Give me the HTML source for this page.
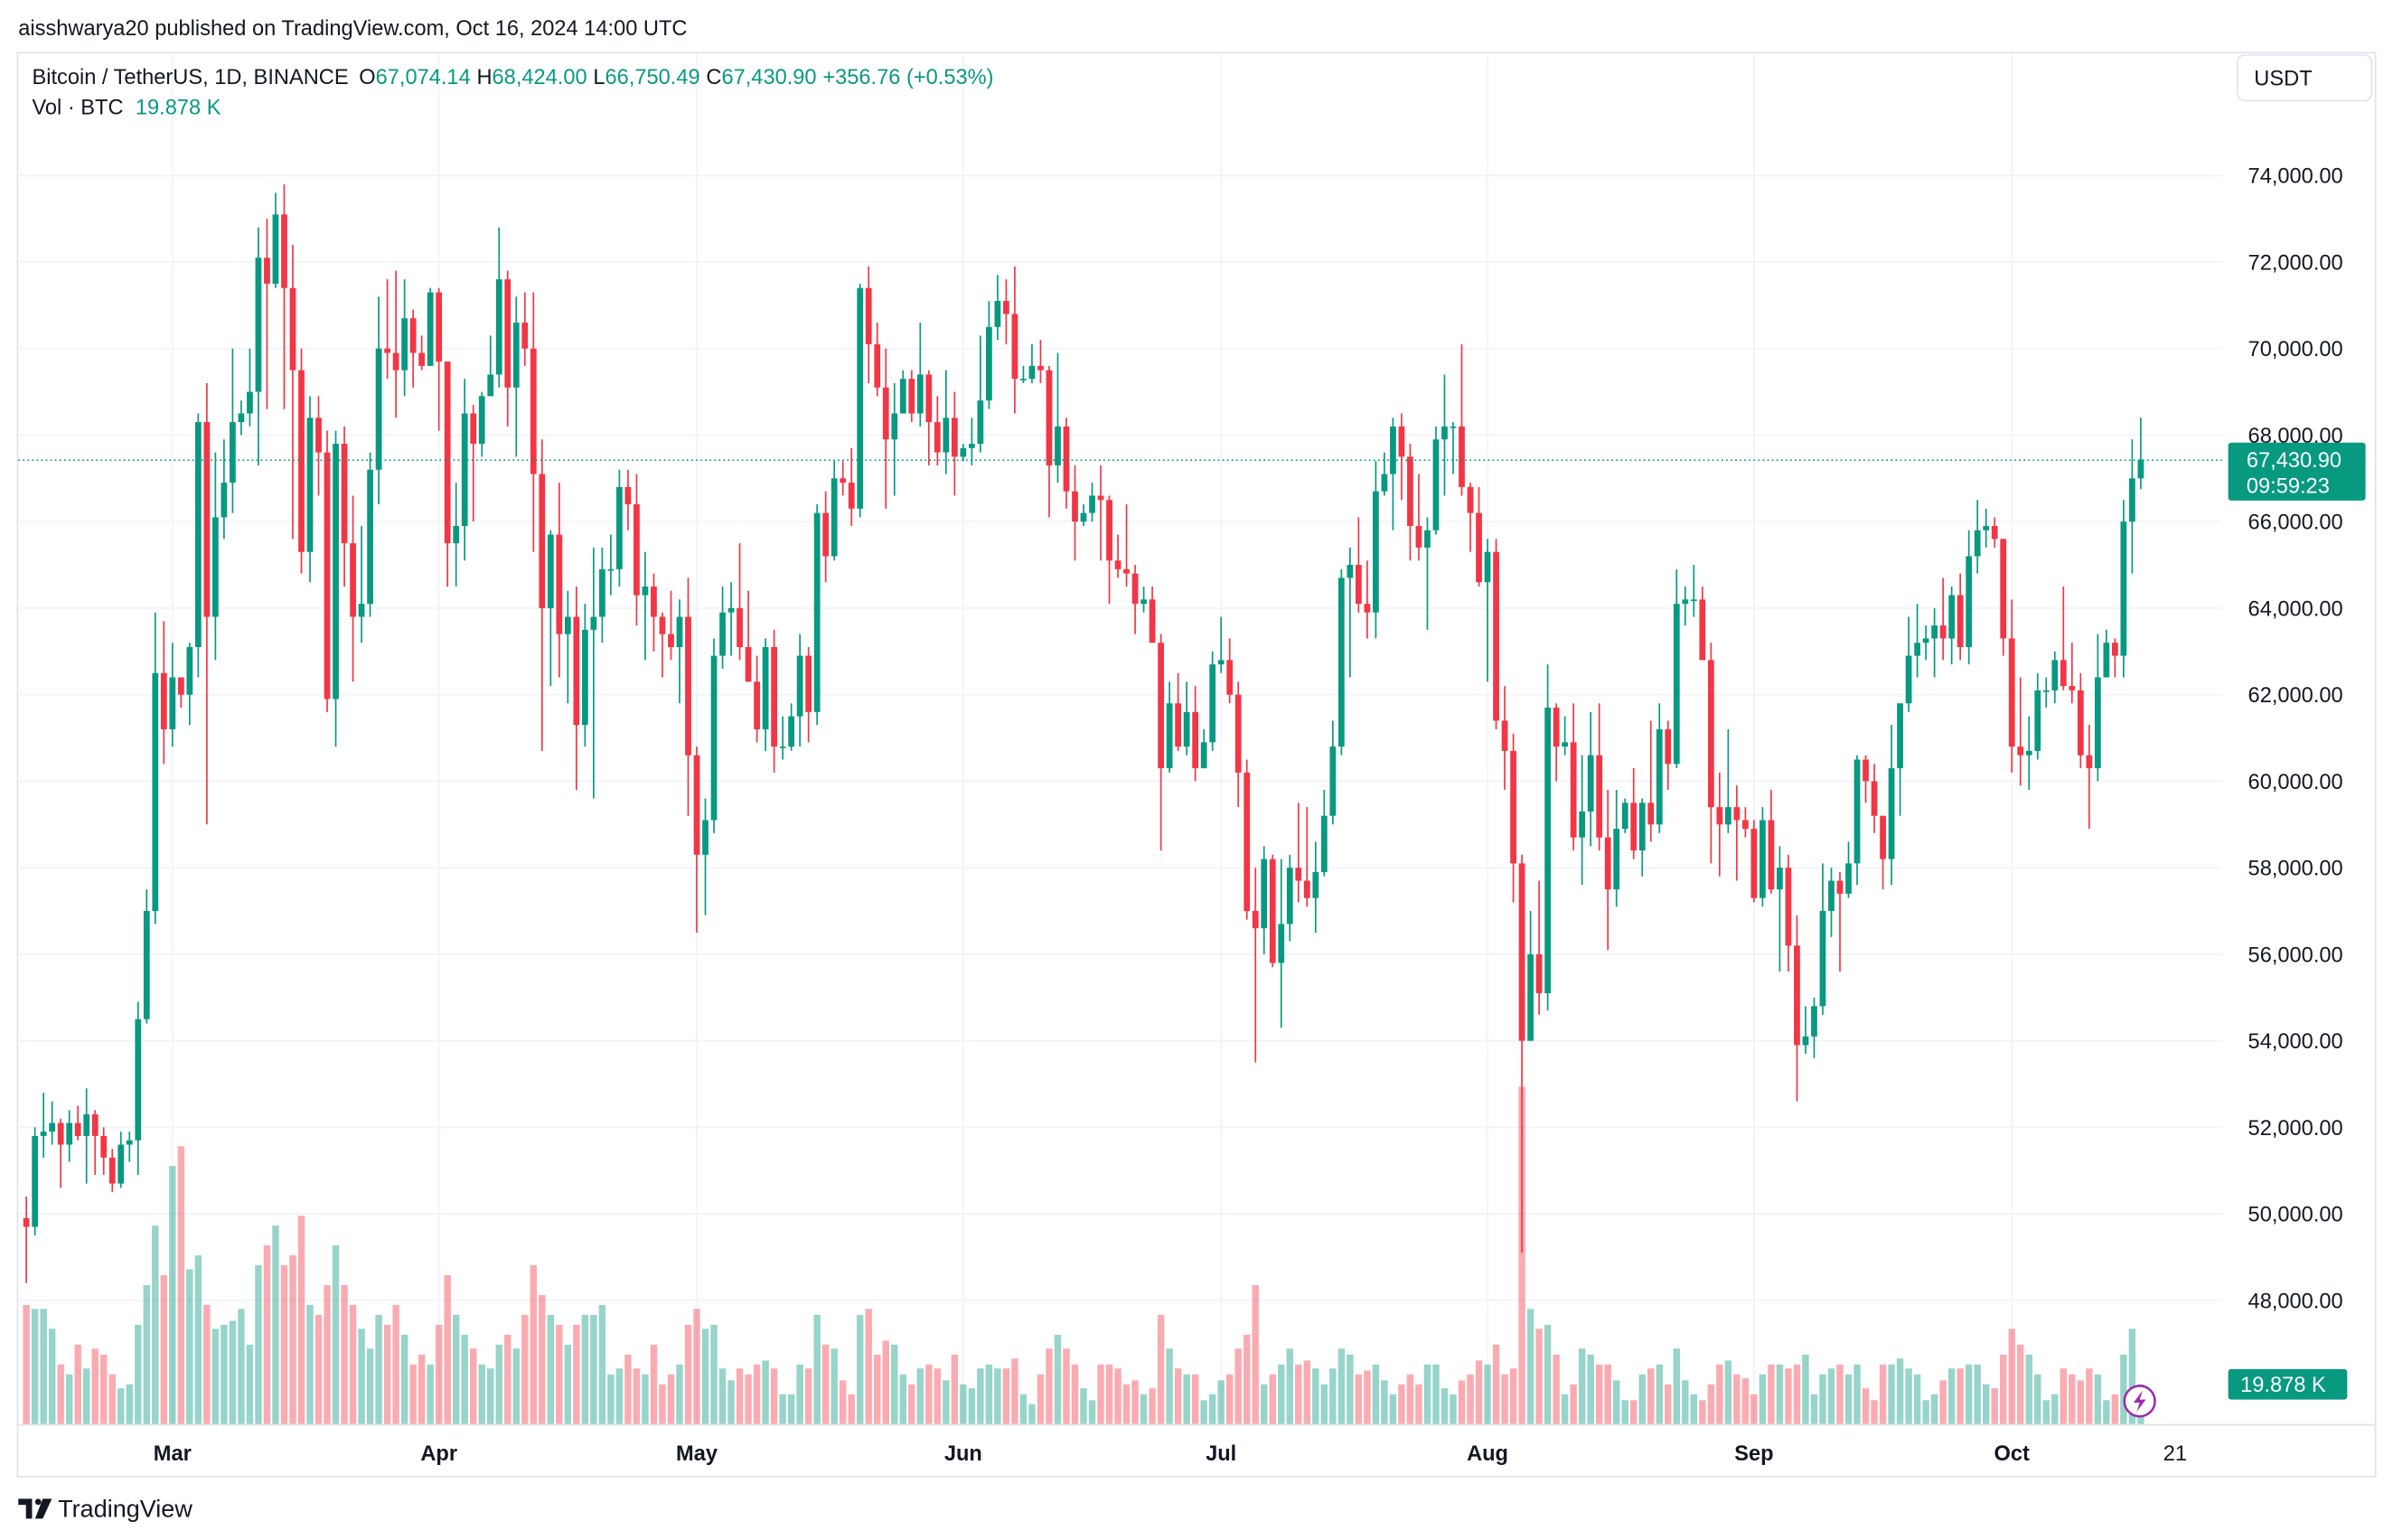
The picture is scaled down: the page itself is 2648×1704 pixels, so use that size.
<!DOCTYPE html>
<html><head><meta charset="utf-8"><style>
html,body{margin:0;padding:0;background:#fff;}
svg{display:block;font-family:"Liberation Sans",sans-serif;}
</style></head><body>
<svg id="chart" width="2648" height="1704" viewBox="0 0 1568 1009" preserveAspectRatio="none" xmlns="http://www.w3.org/2000/svg">
<rect x="0" y="0" width="1568" height="1009" fill="#fff"/>
<text x="12" y="23" font-size="14" fill="#131722">aisshwarya20 published on TradingView.com, Oct 16, 2024 14:00 UTC</text>
<rect x="11.5" y="34.5" width="1545" height="933" fill="none" stroke="#e0e3eb"/>
<g id="grid"></g>
<g id="vol"></g>
<g id="candles"></g>
<g id="yaxis"></g>
<g id="xaxis"></g>
<line x1="12" x2="1458" y1="301.5" y2="301.5" stroke="#089981" stroke-width="1" stroke-dasharray="1,2"/>
<text x="21" y="55" font-size="14" fill="#131722">Bitcoin / TetherUS, 1D, BINANCE <tspan fill="#131722" dx="3">O</tspan><tspan fill="#089981">67,074.14</tspan><tspan fill="#131722" dx="4">H</tspan><tspan fill="#089981">68,424.00</tspan><tspan fill="#131722" dx="4">L</tspan><tspan fill="#089981">66,750.49</tspan><tspan fill="#131722" dx="4">C</tspan><tspan fill="#089981">67,430.90</tspan><tspan fill="#089981" dx="4">+356.76 (+0.53%)</tspan></text>
<text x="21" y="75" font-size="14" fill="#131722">Vol · BTC <tspan fill="#089981" dx="4">19.878 K</tspan></text>
<g>
<rect x="1466" y="36" width="88" height="30" rx="5" fill="#fff" stroke="#e0e3eb"/>
<text x="1477" y="56" font-size="14" fill="#131722">USDT</text></g>
<g>
<rect x="1460" y="290" width="90" height="38" rx="2" fill="#089981"/>
<text x="1472" y="306" font-size="14" fill="#fff">67,430.90</text>
<text x="1472" y="323" font-size="14" fill="#fff">09:59:23</text></g>
<g>
<rect x="1460" y="897" width="78" height="20" rx="2" fill="#089981"/>
<text x="1468" y="912" font-size="14" fill="#fff">19.878 K</text></g>
<g>
<circle cx="1402" cy="918" r="10" fill="#fff" stroke="#9c27b0" stroke-width="1.5"/>
<path d="M1404 911 L1398 919 L1402 919 L1400 925 L1406 917 L1402 917 Z" fill="#9c27b0"/></g>
<g>
<path d="M12 982 H21 V995 H17 V986 H12 Z" fill="#131722"/>
<circle cx="25" cy="984" r="2" fill="#131722"/>
<path d="M28 982 H34 L28 995 H23 Z" fill="#131722"/>
<text x="38" y="994" font-size="16" fill="#131722">TradingView</text></g>
</svg>
<script>
const closes=[49.7,51.8,51.9,52.1,51.6,52.1,51.8,52.3,51.8,51.3,50.7,51.6,51.7,54.5,57.0,62.5,61.2,
62.4,62.0,63.1,68.3,63.8,66.1,66.9,68.3,68.5,69.0,72.1,71.5,73.1,71.4,69.5,65.3,68.4,67.6,61.9,67.8,65.5,63.8,64.1,67.2,70.0,69.9,69.5,70.7,69.9,69.6,71.3,
69.7,65.5,65.9,68.5,67.8,68.9,69.4,71.6,69.1,70.6,70.0,67.1,64.0,65.7,63.4,63.8,61.3,63.5,63.8,64.9,64.9,66.8,66.4,64.3,64.5,63.8,63.4,63.1,63.8,60.6,
58.3,59.1,62.9,63.9,64.0,63.1,62.3,61.2,63.1,60.8,60.8,61.5,62.9,61.6,66.2,65.2,67.0,66.9,66.3,71.4,70.1,69.1,67.9,68.5,69.3,68.5,69.4,68.3,67.6,68.4,67.5,
67.7,67.8,68.8,70.5,71.1,70.8,69.3,69.3,69.6,69.5,67.3,68.2,66.7,66.0,66.2,66.6,66.5,65.1,64.9,64.8,64.1,64.2,63.2,60.3,61.8,60.8,61.6,60.3,60.9,62.7,
62.8,62.0,60.2,57.0,56.6,58.2,55.8,56.7,58.0,57.7,57.3,57.9,59.2,60.8,64.7,65.0,64.1,63.9,66.7,67.1,68.2,67.5,65.9,65.4,65.8,67.9,68.2,68.2,66.8,66.2,64.6,
65.3,61.4,60.7,58.1,54.0,56.0,55.1,61.7,60.8,60.9,58.7,59.3,60.6,58.7,57.5,58.9,59.5,58.4,59.5,59.0,61.2,60.4,64.1,64.2,64.2,62.8,59.4,59.0,59.4,59.1,58.9,
57.3,59.1,57.5,58.0,56.2,53.9,54.1,54.8,57.0,57.7,57.4,58.1,60.5,60.0,59.2,58.2,60.3,61.8,62.9,63.2,63.3,63.6,63.3,64.3,63.1,65.2,65.8,65.9,65.6,63.3,
60.8,60.6,60.7,62.1,62.1,62.8,62.2,62.1,60.6,60.3,62.4,63.2,62.9,66.0,67.0,67.43];
const highs=[50.4,52.0,52.8,52.6,52.2,52.4,52.5,52.9,52.4,52.0,51.5,51.9,51.9,54.9,57.5,63.9,63.7,
63.2,62.4,63.2,68.5,69.2,67.6,67.9,70.0,68.8,70.0,72.8,73.0,73.6,73.8,72.4,70.0,68.9,68.9,68.1,68.1,68.2,66.6,65.9,67.6,71.2,71.6,71.8,71.6,70.9,70.3,71.4,
71.4,69.7,66.9,69.3,68.7,69.0,70.3,72.8,71.8,71.2,71.3,71.3,67.9,65.8,66.9,64.4,64.5,64.1,65.4,65.4,65.7,67.2,67.2,67.1,65.3,64.8,63.9,64.4,64.2,64.7,
60.8,59.6,63.3,64.5,64.6,65.5,64.4,62.9,63.3,63.5,61.5,61.8,63.4,63.1,66.4,66.7,67.4,67.4,67.7,71.5,71.9,70.6,70.0,69.2,69.5,69.5,70.6,69.5,68.9,69.5,69.0,
67.8,68.4,70.3,71.1,71.7,71.6,71.9,69.6,70.1,70.2,69.6,69.9,68.4,67.3,66.4,66.9,67.3,66.6,65.7,66.4,65.0,64.5,64.5,63.4,62.3,62.5,62.3,62.2,61.2,63.0,
63.8,63.3,62.3,60.5,58.0,58.5,58.3,58.2,58.3,59.5,59.4,58.6,59.8,61.4,64.9,65.4,66.1,65.1,67.4,67.6,68.4,68.5,67.8,67.1,66.1,68.2,69.4,68.3,70.1,66.9,66.8,
65.6,65.6,62.2,61.1,58.3,57.0,57.7,62.7,61.8,61.5,61.8,60.6,61.6,61.8,59.8,59.8,59.6,60.3,59.6,61.4,61.8,61.4,64.9,64.5,65.0,64.5,63.2,60.2,61.2,59.9,59.4,
59.1,59.4,59.8,58.5,58.3,56.9,54.8,55.0,58.1,58.0,57.9,58.6,60.6,60.6,60.4,59.2,61.3,61.8,63.8,64.1,63.6,64.0,64.7,64.5,64.8,65.8,66.5,66.3,66.1,65.6,
64.2,62.4,61.5,62.5,62.4,63.0,64.5,63.2,62.5,61.3,63.4,63.5,63.3,66.5,67.9,68.4];
const lows=[48.4,49.5,51.3,51.6,50.6,51.2,51.7,50.7,50.9,50.9,50.5,50.6,51.2,50.9,54.4,56.7,60.4,
60.8,61.7,61.3,62.4,59.0,62.8,65.6,66.2,68.0,68.2,67.3,68.6,71.4,68.6,65.6,64.8,64.6,66.6,61.6,60.8,64.5,62.3,63.2,63.8,66.4,69.3,68.4,68.9,69.1,69.5,69.6,
68.1,64.5,64.5,65.1,66.0,67.5,68.9,69.1,68.2,67.5,69.6,65.3,60.7,62.2,62.4,61.8,59.8,60.8,59.6,63.2,64.3,64.5,65.8,63.6,62.8,63.0,62.4,62.8,61.8,59.2,
56.5,56.9,58.8,62.6,62.9,62.8,62.3,60.9,60.7,60.2,60.5,60.7,60.8,60.9,61.3,64.6,65.1,66.6,65.9,66.1,69.2,68.9,66.3,66.6,68.5,68.3,68.2,67.3,67.3,67.1,66.6,
67.4,67.3,67.6,68.6,70.2,70.1,68.5,69.2,69.2,69.2,66.1,66.9,66.3,65.1,65.9,66.0,65.1,64.1,64.7,64.5,63.4,63.9,63.2,58.4,60.2,60.7,60.6,60.0,60.3,60.7,
62.5,61.8,59.4,56.8,53.5,56.0,55.7,54.3,56.3,57.2,57.1,56.5,57.8,59.0,60.6,62.4,63.9,63.3,63.3,66.6,65.8,66.5,65.1,65.1,63.5,65.7,66.6,67.1,66.6,65.3,64.5,
62.3,61.2,59.8,57.2,49.1,54.0,54.6,54.7,60.0,60.6,58.4,57.6,58.5,58.4,56.1,57.1,58.8,58.2,57.8,58.6,58.8,59.8,60.3,63.6,63.8,62.8,58.1,57.8,58.8,57.7,58.7,
57.2,57.1,57.4,55.6,55.6,52.6,53.7,53.6,54.6,56.4,55.6,57.3,57.6,59.5,58.8,57.5,57.6,59.2,61.6,62.4,62.8,62.4,62.8,62.7,62.8,62.7,64.8,65.4,65.4,62.9,
60.2,59.9,59.8,60.5,61.7,61.8,62.1,61.8,60.3,58.9,60.0,62.4,62.4,62.4,64.8,66.75];
const volumes=[60,58,58,48,30,25,40,28,38,35,25,18,20,50,70,100,75,
130,140,78,85,60,48,50,52,58,40,80,90,100,80,85,105,60,55,70,90,70,60,48,38,55,50,60,45,30,35,30,
50,75,55,45,38,30,28,40,45,38,55,80,65,55,50,40,50,55,55,60,25,28,35,28,25,40,20,25,30,50,
58,48,50,28,22,28,25,30,32,28,15,15,30,28,55,40,38,22,15,55,58,35,42,40,25,20,28,30,28,22,35,
20,18,28,30,28,28,33,15,10,25,38,45,38,30,18,12,30,30,28,20,22,15,18,55,38,28,25,25,12,15,
22,25,38,45,70,20,25,30,38,30,32,28,20,28,38,35,25,27,30,22,15,20,25,20,30,30,18,15,22,25,32,
30,40,25,28,170,58,48,50,35,15,20,38,35,30,30,22,12,12,25,28,30,20,38,22,15,12,20,30,32,25,23,
15,25,30,30,28,30,35,15,25,28,30,25,30,18,12,30,30,33,28,25,12,15,22,28,28,30,30,20,18,35,
48,40,35,25,12,15,28,25,22,28,25,12,15,35,48,20];
const firstOpen=49.9;
const priceTicks=[48000,50000,52000,54000,56000,58000,60000,62000,64000,66000,68000,70000,72000,74000];
const monthLabels=["Mar","Apr","May","Jun","Jul","Aug","Sep","Oct","21"];
const monthDayIndex=[17,48,78,109,139,170,201,231,250];

const NS="http://www.w3.org/2000/svg";
const X0=113, DAY=5.632, START=17;
function xs(i){return X0+(i-START)*DAY;}
function ys(p){return 852+(48000-p)*(737/26000);}
function yv(v){return 933-v*1.3;}
function mk(tag,attrs,parent){const e=document.createElementNS(NS,tag);for(const k in attrs)e.setAttribute(k,attrs[k]);parent.appendChild(e);return e;}
const grid=document.getElementById('grid'),yax=document.getElementById('yaxis'),xax=document.getElementById('xaxis');
const cg=document.getElementById('candles'),vg=document.getElementById('vol');
priceTicks.forEach(p=>{
  const y=ys(p);
  const l=mk('line',{x1:12,x2:1456,y1:y,y2:y,stroke:'#f0f3fa','stroke-width':1},grid);
  
  
  const t=mk('text',{x:1473,y:y+5,'font-size':14,fill:'#131722'},yax);
  
  
  t.textContent=p.toLocaleString('en-US')+'.00';
});
monthLabels.forEach((m,k)=>{
  const x=xs(monthDayIndex[k]);
  if(m!=="21"){
    const l=mk('line',{x1:x,x2:x,y1:35,y2:933,stroke:'#f0f3fa','stroke-width':1},grid);
    
    
  }
  const t=mk('text',{x:x,y:957,'font-size':14,fill:'#131722','text-anchor':'middle','font-weight':m==="21"?'normal':'bold'},xax);
  
  
  t.textContent=m;
});
const axl=mk('line',{x1:12,x2:1556,y1:933.5,y2:933.5,stroke:'#e0e3eb'},xax);


closes.forEach((c,i)=>{
  const o=i===0?firstOpen:closes[i-1];
  const up=c>=o, col=up?'#089981':'#f23645';
  const x=xs(i);
  const vb=mk('rect',{x:x-2.2,y:yv(volumes[i]),width:4.4,height:933-yv(volumes[i]),fill:up?'rgba(8,153,129,0.42)':'rgba(242,54,69,0.42)'},vg);
  
  
  const w=mk('line',{x1:x,x2:x,y1:ys(highs[i]*1000),y2:ys(lows[i]*1000),stroke:col,'stroke-width':1},cg);
  
  
  const top=ys(Math.max(o,c)*1000), bot=ys(Math.min(o,c)*1000);
  const b=mk('rect',{x:x-2,y:top,width:4,height:Math.max(1,bot-top),fill:col},cg);
  
  
});
</script>
</body></html>
